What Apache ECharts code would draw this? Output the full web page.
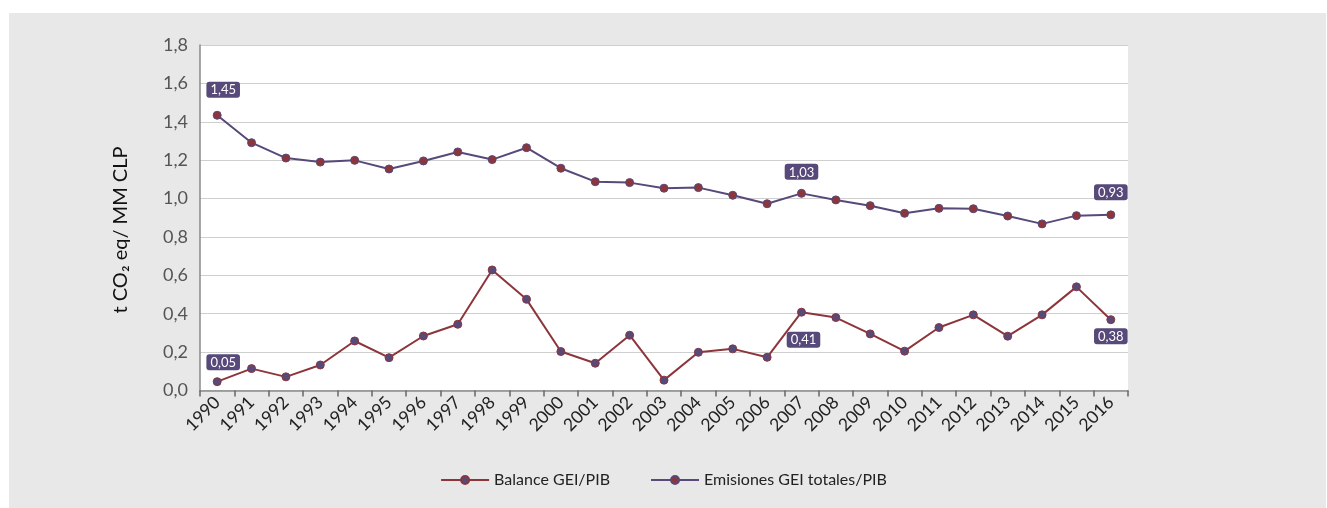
<!DOCTYPE html>
<html>
<head>
<meta charset="utf-8">
<script src="https://cdn.jsdelivr.net/npm/echarts@6/dist/echarts.min.js"></script>
<style>
html,body{margin:0;padding:0;background:#fff;}
#wrap{position:absolute;left:9px;top:13px;right:1px;bottom:0;background:#e8e8e8;}
#chart{position:absolute;left:0;top:0;width:1327px;height:508px;}
</style>
</head>
<body>
<div id="wrap"></div>
<div id="chart"></div>
<script>
const years = ['1990','1991','1992','1993','1994','1995','1996','1997','1998','1999','2000','2001','2002','2003','2004','2005','2006','2007','2008','2009','2010','2011','2012','2013','2014','2015','2016'];
const balance = [0.046,0.114,0.071,0.133,0.258,0.171,0.284,0.345,0.628,0.475,0.203,0.142,0.288,0.054,0.199,0.217,0.173,0.408,0.380,0.295,0.205,0.328,0.394,0.283,0.394,0.540,0.369];
const emisiones = [1.434,1.291,1.211,1.190,1.199,1.154,1.196,1.243,1.203,1.265,1.158,1.088,1.083,1.054,1.057,1.017,0.973,1.027,0.993,0.963,0.923,0.949,0.947,0.909,0.868,0.911,0.915];
const balanceLabels = {0:'0,05', 17:'0,41', 26:'0,38'};
const emisionesLabels = {0:'1,45', 17:'1,03', 26:'0,93'};
const yAxisTitle = 't CO\u2082 eq/ MM CLP';

const RED = '#8c363b';
const PURPLE = '#57497a';
const FONT = 'Lato, "Open Sans", sans-serif';

const labelBase = {
  show: true, color: '#fff', fontSize: 13, fontFamily: FONT,
  backgroundColor: PURPLE, borderRadius: 3, padding: [2, 4, 1, 4]
};
const balPos = {0:{position:'top',offset:[6,-2]}, 17:{position:'bottom',offset:[2,10]}, 26:{position:'bottom',offset:[0,-1]}};
const emiPos = {0:{position:'top',offset:[6,-8]}, 17:{position:'top',offset:[0,-4]}, 26:{position:'top',offset:[0,-5]}};

function build(values, labels, pos){
  return values.map((v,i)=>{
    if(labels[i]!==undefined){
      const t = labels[i];
      return {value:v, label:Object.assign({}, labelBase, pos[i], {formatter:()=>t})};
    }
    return v;
  });
}

const chart = echarts.init(document.getElementById('chart'), null, {renderer:'canvas'});
chart.setOption({
  backgroundColor: 'transparent',
  animation: false,
  textStyle: {fontFamily: FONT},
  grid: {left: 200, right: 199, top: 45, bottom: 117.5, show: true, backgroundColor: '#ffffff', borderWidth: 0},
  graphic: [{
    type: 'text', x: 121, y: 230, rotation: Math.PI/2,
    style: {text: yAxisTitle, fontSize: 20, fill: '#111', fontFamily: FONT,
      align: 'center', verticalAlign: 'middle'}
  }],
  legend: {
    bottom: 15, left: 'center', itemWidth: 48, itemHeight: 10, itemGap: 40,
    textStyle: {fontSize: 16, color: '#222', fontFamily: FONT},
    data: ['Balance GEI/PIB', 'Emisiones GEI totales/PIB']
  },
  xAxis: {
    type: 'category', data: years, boundaryGap: true,
    axisLine: {lineStyle: {color: '#8a8a8a', width: 1.5}},
    axisTick: {show: true, alignWithLabel: false, length: 6, lineStyle: {color: '#666', width: 1.5}},
    axisLabel: {rotate: 45, fontSize: 17.5, color: '#222', margin: 9, interval: 0, fontFamily: FONT},
    splitLine: {show: false}
  },
  yAxis: {
    type: 'value', min: 0, max: 1.8, interval: 0.2,
    axisLine: {show: true, lineStyle: {color: '#8a8a8a', width: 1.5}},
    axisTick: {show: false},
    axisLabel: {fontSize: 18, color: '#555', margin: 12, fontFamily: FONT,
      formatter: v => (Math.round(v*10)/10).toFixed(1).replace('.', ',')},
    splitLine: {lineStyle: {color: '#cfcfcf', width: 1}}
  },
  series: [
    {
      name: 'Balance GEI/PIB', type: 'line',
      data: build(balance, balanceLabels, balPos),
      symbol: 'circle', symbolSize: 8,
      lineStyle: {color: RED, width: 2},
      itemStyle: {color: PURPLE, borderColor: RED, borderWidth: 1},
      label: {show: false}
    },
    {
      name: 'Emisiones GEI totales/PIB', type: 'line',
      data: build(emisiones, emisionesLabels, emiPos),
      symbol: 'circle', symbolSize: 8,
      lineStyle: {color: PURPLE, width: 2},
      itemStyle: {color: RED, borderColor: PURPLE, borderWidth: 1},
      label: {show: false}
    }
  ]
});
</script>
</body>
</html>
